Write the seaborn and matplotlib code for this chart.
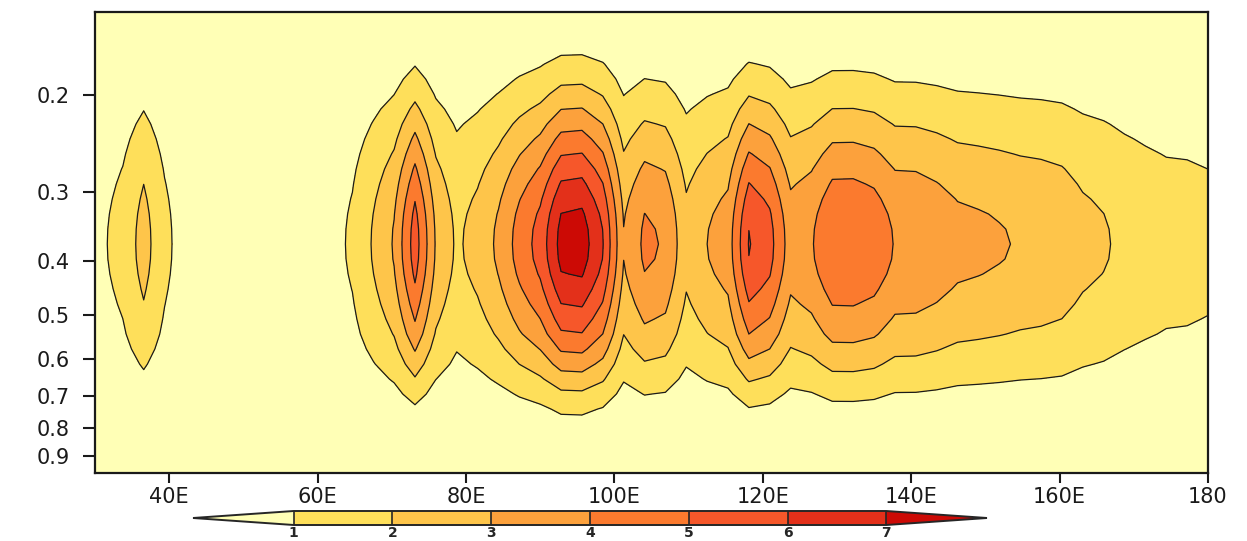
import numpy as np
import matplotlib
matplotlib.use("Agg")
import matplotlib.pyplot as plt
import seaborn as sns
from matplotlib.ticker import NullLocator

# longitude grid (T42 spacing, deg E), one column per value in peaks
lons = 28.125 + 2.8125 * np.arange(55)

# vertical levels (top of plot to bottom)
levels = [0.1415, 0.1457, 0.1551, 0.1651, 0.1758, 0.1871, 0.1992, 0.2120, 0.2257,
          0.2402, 0.2557, 0.2722, 0.2898, 0.3085, 0.3284, 0.3496, 0.3721, 0.3961,
          0.4217, 0.4489, 0.4778, 0.5086, 0.5414, 0.5763, 0.6135, 0.6531, 0.6952,
          0.7400, 0.7878, 0.8386, 0.8926, 0.9502, 0.966]

# vertical shape of the field (1 = level of maximum)
profile = [0.02, 0.03, 0.065, 0.11, 0.173, 0.24, 0.319, 0.406, 0.497,
           0.585, 0.672, 0.757, 0.832, 0.90, 0.955, 0.989, 1.0, 0.987,
           0.945, 0.883, 0.814, 0.739, 0.66, 0.56, 0.456, 0.348, 0.244,
           0.156, 0.098, 0.05, 0.025, 0.01, 0.01]

# value at the level of maximum for each longitude
peaks = [0.5, 0.88, 1.35, 2.4, 1.25, 0.55, 0.4, 0.35, 0.35, 0.35,
         0.4, 0.5, 0.7, 1.15, 2.1, 3.1, 5.5, 2.9, 1.85, 2.35,
         3.2, 4.4, 5.4, 7.35, 7.5, 6.05, 3.05, 4.2, 3.9, 2.3,
         3.0, 3.5, 6.06, 5.35, 3.5, 3.9, 4.95, 4.97, 4.7, 3.93,
         3.9, 3.65, 3.3, 3.2, 3.08, 2.93, 2.85, 2.7, 2.3, 2.1,
         1.8, 1.6, 1.45, 1.42, 1.32]

clev = [1, 2, 3, 4, 5, 6, 7]
colors = ["#FFFFB6", "#FEDF5A", "#FEC54A", "#FCA13C", "#FB7A2E",
          "#F6572A", "#E3301A", "#CC0A05"]

yticks = [0.2, 0.3, 0.4, 0.5, 0.6, 0.7, 0.8, 0.9]
xticks = [40, 60, 80, 100, 120, 140, 160, 180]
xlabels = ["40E", "60E", "80E", "100E", "120E", "140E", "160E", "180"]

field = np.outer(profile, peaks)

sns.set_theme(style="ticks")
plt.rcParams["font.family"] = ["DejaVu Sans"]

W, H = 1247, 541
fig = plt.figure(figsize=(W / 100, H / 100), dpi=100)
ax = fig.add_axes([95 / W, 1 - 473 / H, (1208 - 95) / W, (473 - 12) / H])

cf = ax.contourf(lons, levels, field, levels=clev, colors=colors, extend="both")
ax.contour(lons, levels, field, levels=clev, colors="k", linewidths=0.9)

ax.set_yscale("log")
ax.set_ylim(0.966, 0.1415)
ax.set_xlim(30, 180)
ax.set_yticks(yticks)
ax.set_yticklabels([str(v) for v in yticks])
ax.yaxis.set_minor_locator(NullLocator())
ax.set_xticks(xticks)
ax.set_xticklabels(xlabels)
ax.tick_params(axis="y", direction="out", length=9, width=1.5, pad=9,
               labelsize=15, colors="k")
ax.tick_params(axis="x", direction="out", length=7, width=1.5, pad=3,
               labelsize=15, colors="k")
for s in ax.spines.values():
    s.set_linewidth(1.6)
    s.set_color("k")

# colorbar with triangular ends
cax = fig.add_axes([193 / W, 1 - 525 / H, (987 - 193) / W, 14 / H])
cb = fig.colorbar(cf, cax=cax, orientation="horizontal", extendfrac=0.17,
                  drawedges=True)
cb.set_ticks(clev)
cb.ax.tick_params(length=0, pad=1, labelsize=10)
for t in cb.ax.get_xticklabels():
    t.set_fontweight("bold")
cb.outline.set_linewidth(1.4)
cb.dividers.set_linewidth(1.2)

fig.savefig("out.png", dpi=100)
